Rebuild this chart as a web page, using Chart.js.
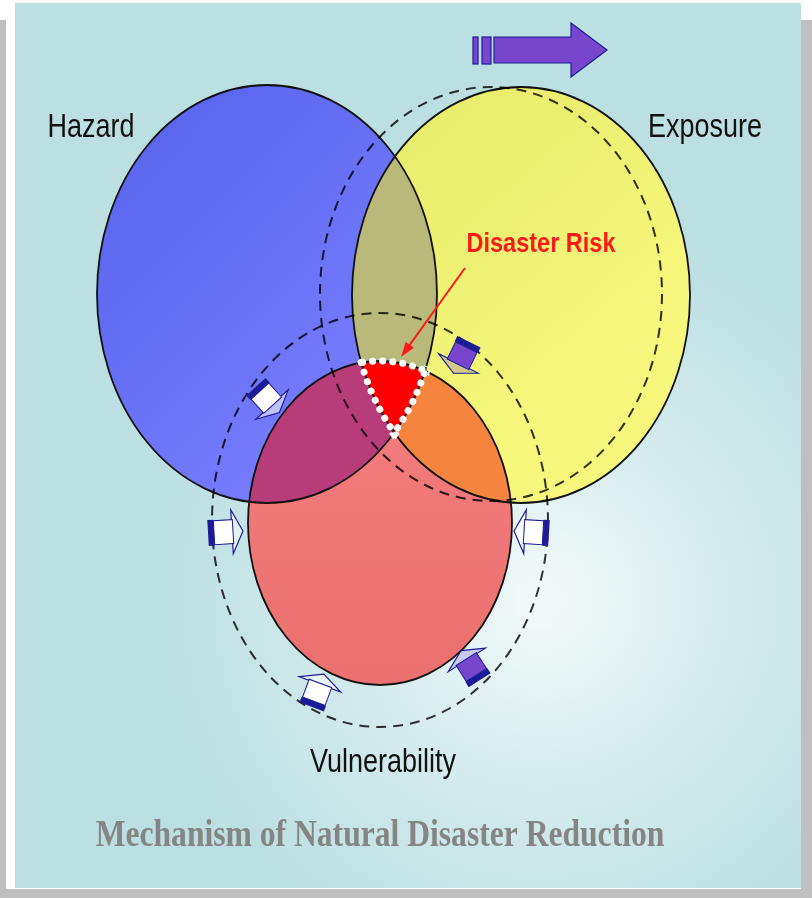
<!DOCTYPE html>
<html>
<head>
<meta charset="utf-8">
<script src="https://cdn.jsdelivr.net/npm/chart.js@4.4.0/dist/chart.umd.min.js"></script>
<style>
html, body { margin: 0; padding: 0; background: #fff; }
canvas { display: block; }
</style>
</head>
<body>
<canvas id="venn" width="812" height="898"></canvas>
<script>
// the three sets
var setNames = ['Hazard', 'Exposure', 'Vulnerability'];
var setCenterX = [267, 521, 380];
var setCenterY = [294, 295, 523];
var setRadiusX = [170, 169, 132];
var setRadiusY = [209, 208, 162];

// dashed outlines after reduction (exposure moved, vulnerability widened)
var reducedCenterX = [491, 380];
var reducedCenterY = [294, 520];
var reducedRadiusX = [171, 168];
var reducedRadiusY = [207, 207];

// small push arrows around vulnerability
var pushX = [268, 461, 226, 531, 318, 470];
var pushY = [400, 358, 532, 532, 690, 665];
var pushKind = ['open', 'solid', 'open', 'open', 'open', 'solid'];

// labels
var labelText = ['Hazard', 'Exposure', 'Vulnerability'];
var labelX = [91, 705, 383];
var labelY = [128, 128, 763];

var riskText = 'Disaster Risk';
var riskX = 541, riskY = 244;
var pointerFrom = [465, 268];
var pointerTo = [401, 357];

// moving arrow at the top
var shiftFromX = 473, shiftToX = 607, shiftY = 50;

var titleText = 'Mechanism of Natural Disaster Reduction';
var titleX = 380, titleY = 836;

var NAVY = '#1c1c96';
var PURPLE = '#7846cc';

function ell(chart, cx, cy, rx, ry) {
	var xs = chart.scales.x, ys = chart.scales.y;
	var px = xs.getPixelForValue(cx), py = ys.getPixelForValue(cy);
	return {
		x: px, y: py,
		rx: Math.abs(xs.getPixelForValue(cx + rx) - px),
		ry: Math.abs(ys.getPixelForValue(cy + ry) - py)
	};
}

function pathOf(ctx, e, grow) {
	grow = grow || 0;
	ctx.beginPath();
	ctx.ellipse(e.x, e.y, e.rx + grow, e.ry + grow, 0, 0, Math.PI * 2);
}

function drawPush(ctx, x, y, ang, kind) {
	ctx.save();
	ctx.translate(x, y);
	ctx.rotate(ang);
	// head
	ctx.beginPath();
	ctx.moveTo(6, -22); ctx.lineTo(17, 0); ctx.lineTo(6, 22); ctx.closePath();
	ctx.fillStyle = kind === 'solid' ? 'rgba(120,70,204,0.25)' : 'rgba(255,255,255,0.55)';
	ctx.fill();
	ctx.lineWidth = 1.2;
	ctx.strokeStyle = NAVY;
	ctx.stroke();
	// body
	ctx.fillStyle = kind === 'solid' ? PURPLE : '#ffffff';
	ctx.fillRect(-12, -12, 19, 24);
	ctx.lineWidth = 1;
	ctx.strokeRect(-12, -12, 19, 24);
	// tail bar
	ctx.fillStyle = NAVY;
	ctx.fillRect(-18, -13, 6, 26);
	ctx.restore();
}

function stretchedText(ctx, text, x, y) {
	ctx.save();
	ctx.translate(x, y);
	ctx.scale(1, 1.2);
	ctx.fillText(text, 0, 0);
	ctx.restore();
}

var vennPlugin = {
	id: 'vennPlugin',
	beforeDraw: function(chart) {
		var ctx = chart.ctx, xs = chart.scales.x, ys = chart.scales.y;
		ctx.save();
		ctx.fillStyle = '#ffffff';
		ctx.fillRect(0, 0, chart.width, chart.height);
		// shadow strips
		ctx.fillStyle = '#bfbfbf';
		ctx.fillRect(0, 20, 6, chart.height - 20);
		ctx.fillRect(801, 20, 11, chart.height - 20);
		ctx.fillRect(0, 889, chart.width, 9);
		// panel
		var g = ctx.createRadialGradient(xs.getPixelForValue(540), ys.getPixelForValue(600), 10,
			xs.getPixelForValue(540), ys.getPixelForValue(600), 380);
		g.addColorStop(0, '#f2f9f9');
		g.addColorStop(0.45, '#d6ecee');
		g.addColorStop(1, '#bcdfe2');
		ctx.fillStyle = g;
		ctx.fillRect(15, 3, 786, 885);
		ctx.restore();
	},
	afterDatasetsDraw: function(chart) {
		var ctx = chart.ctx;
		var E = [];
		for (var i = 0; i < setNames.length; i++) {
			E.push(ell(chart, setCenterX[i], setCenterY[i], setRadiusX[i], setRadiusY[i]));
		}
		var hz = E[0], ex = E[1], vu = E[2];
		ctx.save();

		// base fills
		var gb = ctx.createLinearGradient(hz.x - hz.rx, hz.y - hz.ry, hz.x + hz.rx, hz.y + hz.ry * 0.6);
		gb.addColorStop(0, '#5462ec');
		gb.addColorStop(1, '#7c80ff');
		pathOf(ctx, hz); ctx.fillStyle = gb; ctx.fill();

		var gy = ctx.createLinearGradient(ex.x - ex.rx, ex.y - ex.ry, ex.x + ex.rx * 0.4, ex.y + ex.ry * 0.3);
		gy.addColorStop(0, '#e3ea68');
		gy.addColorStop(1, '#f6f77c');
		pathOf(ctx, ex); ctx.fillStyle = gy; ctx.fill();

		var gr = ctx.createLinearGradient(0, vu.y - vu.ry, 0, vu.y + vu.ry);
		gr.addColorStop(0, '#f47e7e');
		gr.addColorStop(1, '#eb7070');
		pathOf(ctx, vu); ctx.fillStyle = gr; ctx.fill();

		// overlaps
		function fillOverlap(list, color) {
			ctx.save();
			list.forEach(function(e) { pathOf(ctx, e); ctx.clip(); });
			ctx.fillStyle = color;
			ctx.fillRect(0, 0, chart.width, chart.height);
			ctx.restore();
		}
		fillOverlap([hz, ex], '#b9b97a');
		fillOverlap([hz, vu], '#b83c7a');
		fillOverlap([ex, vu], '#f5843f');
		fillOverlap([hz, ex, vu], '#ff0000');

		// outlines
		ctx.lineWidth = 1.8;
		ctx.strokeStyle = '#111';
		E.forEach(function(e) { pathOf(ctx, e); ctx.stroke(); });

		// dashed reduced outlines
		ctx.setLineDash([10, 7]);
		ctx.lineWidth = 2;
		ctx.strokeStyle = 'rgba(0,0,0,0.8)';
		for (var j = 0; j < reducedCenterX.length; j++) {
			pathOf(ctx, ell(chart, reducedCenterX[j], reducedCenterY[j], reducedRadiusX[j], reducedRadiusY[j]));
			ctx.stroke();
		}
		ctx.setLineDash([]);

		// dotted border of the triple overlap
		ctx.save();
		E.forEach(function(e) { pathOf(ctx, e, 5); ctx.clip(); });
		ctx.setLineDash([0.1, 10]);
		ctx.lineCap = 'round';
		ctx.lineWidth = 7;
		ctx.strokeStyle = '#ffffff';
		E.forEach(function(e) { pathOf(ctx, e); ctx.stroke(); });
		ctx.restore();

		// push arrows pointing to vulnerability
		var xs = chart.scales.x, ys = chart.scales.y;
		for (var k = 0; k < pushX.length; k++) {
			var px = xs.getPixelForValue(pushX[k]), py = ys.getPixelForValue(pushY[k]);
			drawPush(ctx, px, py, Math.atan2(vu.y - py, vu.x - px), pushKind[k]);
		}

		// pointer
		var fx = xs.getPixelForValue(pointerFrom[0]), fy = ys.getPixelForValue(pointerFrom[1]);
		var tx = xs.getPixelForValue(pointerTo[0]), ty = ys.getPixelForValue(pointerTo[1]);
		var a = Math.atan2(ty - fy, tx - fx);
		ctx.strokeStyle = '#ff1a1a';
		ctx.fillStyle = '#ff1a1a';
		ctx.lineWidth = 2;
		ctx.beginPath();
		ctx.moveTo(fx, fy);
		ctx.lineTo(tx - 10 * Math.cos(a), ty - 10 * Math.sin(a));
		ctx.stroke();
		ctx.beginPath();
		ctx.moveTo(tx, ty);
		ctx.lineTo(tx - 15 * Math.cos(a) + 5 * Math.sin(a), ty - 15 * Math.sin(a) - 5 * Math.cos(a));
		ctx.lineTo(tx - 15 * Math.cos(a) - 5 * Math.sin(a), ty - 15 * Math.sin(a) + 5 * Math.cos(a));
		ctx.closePath();
		ctx.fill();

		// top shifting arrow
		var sx0 = xs.getPixelForValue(shiftFromX), sx1 = xs.getPixelForValue(shiftToX), sy = ys.getPixelForValue(shiftY);
		ctx.lineWidth = 1.2;
		ctx.strokeStyle = NAVY;
		ctx.fillStyle = PURPLE;
		ctx.fillRect(sx0, sy - 13, 5, 27); ctx.strokeRect(sx0, sy - 13, 5, 27);
		ctx.fillRect(sx0 + 9, sy - 13, 9, 27); ctx.strokeRect(sx0 + 9, sy - 13, 9, 27);
		ctx.beginPath();
		ctx.moveTo(sx0 + 21, sy - 13);
		ctx.lineTo(sx1 - 36, sy - 13);
		ctx.lineTo(sx1 - 36, sy - 27);
		ctx.lineTo(sx1, sy);
		ctx.lineTo(sx1 - 36, sy + 27);
		ctx.lineTo(sx1 - 36, sy + 13);
		ctx.lineTo(sx0 + 21, sy + 13);
		ctx.closePath();
		ctx.fill();
		ctx.stroke();

		// labels
		ctx.textAlign = 'center';
		ctx.textBaseline = 'middle';
		ctx.fillStyle = '#111';
		ctx.font = '27px "Liberation Sans", Arial, sans-serif';
		for (var m = 0; m < labelText.length; m++) {
			stretchedText(ctx, labelText[m], xs.getPixelForValue(labelX[m]), ys.getPixelForValue(labelY[m]));
		}
		ctx.fillStyle = '#ff1a1a';
		ctx.font = 'bold 23.5px "Liberation Sans", Arial, sans-serif';
		stretchedText(ctx, riskText, xs.getPixelForValue(riskX), ys.getPixelForValue(riskY));

		ctx.fillStyle = '#858585';
		ctx.font = 'bold 31.6px "Liberation Serif", "Times New Roman", serif';
		stretchedText(ctx, titleText, xs.getPixelForValue(titleX), ys.getPixelForValue(titleY));
		ctx.restore();
	}
};

new Chart(document.getElementById('venn'), {
	type: 'scatter',
	data: {
		datasets: [{
			label: 'sets',
			data: setCenterX.map(function(x, i) { return { x: x, y: setCenterY[i] }; }),
			pointRadius: 0
		}]
	},
	options: {
		responsive: false,
		animation: false,
		layout: { padding: 0 },
		plugins: { legend: { display: false }, tooltip: { enabled: false } },
		scales: {
			x: { type: 'linear', min: 0, max: 812, display: false },
			y: { type: 'linear', min: 0, max: 898, reverse: true, display: false }
		}
	},
	plugins: [vennPlugin]
});
</script>
</body>
</html>
